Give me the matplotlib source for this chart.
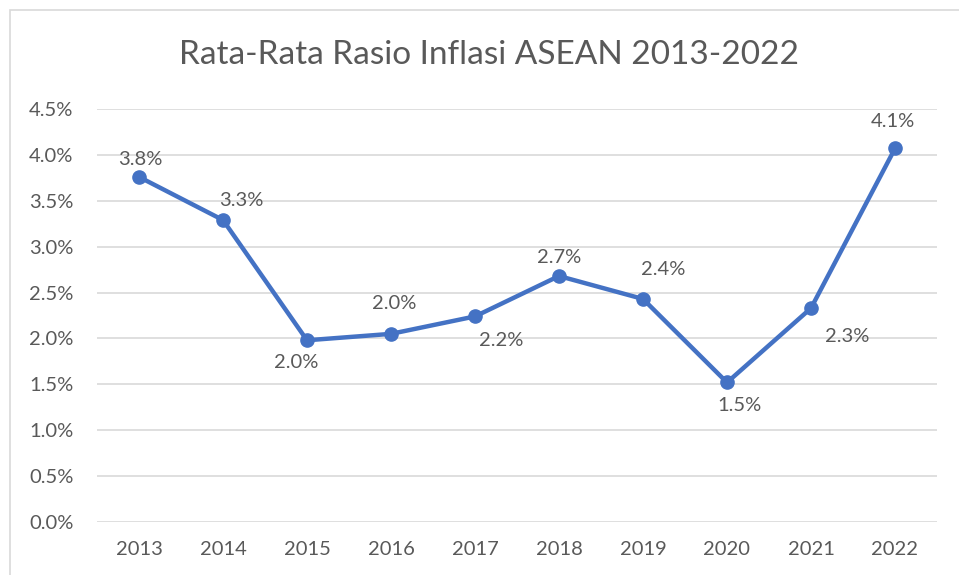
# %%
# Rata-rata rasio inflasi ASEAN, grafik garis gaya Excel

import matplotlib.pyplot as plt
from matplotlib.patches import Rectangle
from matplotlib.ticker import FuncFormatter, MultipleLocator

# =========================
# DATA
# =========================

years = ["2013", "2014", "2015", "2016", "2017", "2018", "2019", "2020", "2021", "2022"]
inflation = [3.76, 3.29, 1.98, 2.05, 2.24, 2.68, 2.43, 1.52, 2.33, 4.07]
labels = ["3.8%", "3.3%", "2.0%", "2.0%", "2.2%", "2.7%", "2.4%", "1.5%", "2.3%", "4.1%"]

# posisi label (pixel) relatif ke titik, meniru tata letak Excel
label_offsets = [(1, 17), (18, 20), (-11, -22), (3, 30), (26, -24),
                 (0, 19), (20, 29), (12, -23), (36, -28), (-2, 27)]

# =========================
# PLOT
# =========================

plt.rcParams["font.family"] = ["Lato", "DejaVu Sans"]
text_color = "#595959"
line_color = "#4472C4"

fig = plt.figure(figsize=(9.59, 5.75), dpi=100)
fig.patches.append(Rectangle((10 / 959, -0.1), 1.2, 1 - 10 / 575 + 0.1,
                             transform=fig.transFigure, fill=False,
                             edgecolor="#D9D9D9", linewidth=1.2))

ax = fig.add_axes([97 / 959, 1 - 522 / 575, 840 / 959, 413 / 575])

x = list(range(len(years)))
ax.plot(x, inflation, color=line_color, linewidth=3.2, marker="o",
        markersize=9.5, solid_capstyle="round", zorder=3)

for xi, yi, lab, (dx, dy) in zip(x, inflation, labels, label_offsets):
    ax.annotate(lab, (xi, yi), xytext=(dx, dy), textcoords="offset pixels",
                ha="center", va="center", fontsize=14.5, color=text_color)

ax.set_xlim(-0.5, len(years) - 0.5)
ax.set_ylim(0, 4.5)
ax.set_xticks(x)
ax.set_xticklabels(years)
ax.yaxis.set_major_locator(MultipleLocator(0.5))
ax.yaxis.set_major_formatter(FuncFormatter(lambda v, _: f"{v:.1f}%"))
ax.grid(axis="y", color="#D9D9D9", linewidth=1.2)
ax.set_axisbelow(True)
for s in ax.spines.values():
    s.set_visible(False)
ax.tick_params(length=0, labelsize=14.5, labelcolor=text_color)
ax.tick_params(axis="y", pad=17)
ax.tick_params(axis="x", pad=14)

fig.text(489 / 959, 1 - 55 / 575, "Rata-Rata Rasio Inflasi ASEAN 2013-2022",
         ha="center", va="center", fontsize=24, color=text_color)

fig.savefig("out.png", dpi=100)
